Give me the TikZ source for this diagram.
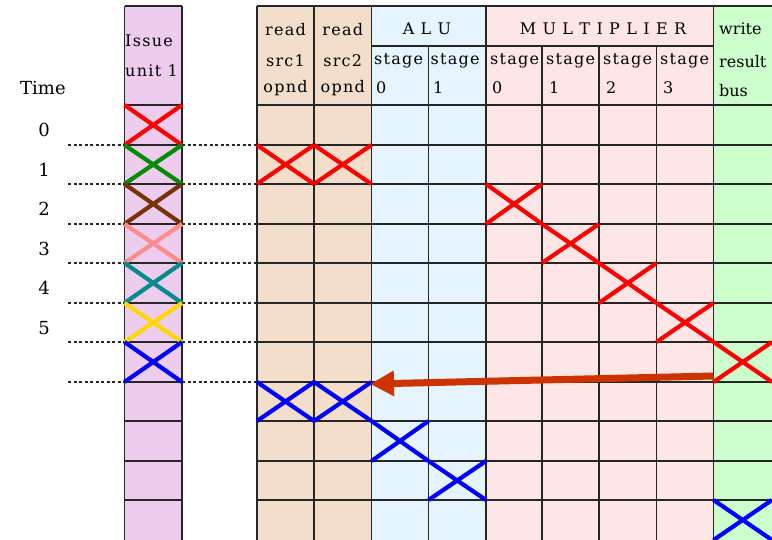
\documentclass[tikz,border=0pt]{standalone}
\usepackage{fontspec}
\setmainfont{DejaVu Serif}
\newfontfamily\hdrfont{DejaVu Serif}[LetterSpace=8]
\usetikzlibrary{arrows.meta}
\definecolor{issuefill}{RGB}{238,204,238}
\definecolor{readfill}{RGB}{242,222,202}
\definecolor{alufill}{RGB}{230,244,255}
\definecolor{mulfill}{RGB}{255,230,230}
\definecolor{wrfill}{RGB}{204,255,204}
\definecolor{xred}{RGB}{255,0,0}
\definecolor{xgreen}{RGB}{0,140,0}
\definecolor{xbrown}{RGB}{120,50,10}
\definecolor{xpink}{RGB}{255,140,140}
\definecolor{xteal}{RGB}{0,140,140}
\definecolor{xgold}{RGB}{255,215,0}
\definecolor{xblue}{RGB}{0,0,255}
\definecolor{arrowcol}{RGB}{204,51,0}
\def\colsx{{257,314,371.5,428.5,486,542,599,656.5,713.5,772}}
\def\rowsy{{105,145,184,224,263,303,342,382,421,461,500,540}}
\newcommand\xcell[3]{%
  \pgfmathsetmacro\xl{\colsx[#1]}%
  \pgfmathsetmacro\xr{\colsx[#1+1]}%
  \pgfmathsetmacro\yt{\rowsy[#2]}%
  \pgfmathsetmacro\yb{\rowsy[#2+1]}%
  \draw[xmark,#3] (\xl,\yt) -- (\xr,\yb) (\xl,\yb) -- (\xr,\yt);}
\newcommand\icell[2]{%
  \pgfmathsetmacro\yt{\rowsy[#1]}%
  \pgfmathsetmacro\yb{\rowsy[#1+1]}%
  \draw[xmark,#2] (124.5,\yt) -- (182,\yb) (124.5,\yb) -- (182,\yt);}
\begin{document}
\begin{tikzpicture}[x=1pt,y=-1pt,
  gridline/.style={line width=1.8pt, black!85},
  xmark/.style={line width=4.2pt},
  dots/.style={line width=2pt, black!85, dash pattern=on 3pt off 2.5pt},
  hdr/.style={font=\hdrfont\fontsize{16}{18}\selectfont, inner sep=0pt},
  wrt/.style={font=\fontsize{16}{18}\selectfont, inner sep=0pt},
  lbl/.style={font=\fontsize{18}{20}\selectfont, inner sep=0pt}]
\useasboundingbox (0,0) rectangle (772,540);
\clip (0,0) rectangle (772,540);
% fills
\fill[issuefill] (124.5,6) rectangle (182,545);
\fill[readfill] (257,6) rectangle (371.5,545);
\fill[alufill] (371.5,6) rectangle (486,545);
\fill[mulfill] (486,6) rectangle (713.5,545);
\fill[wrfill] (713.5,6) rectangle (780,545);
% grid
\draw[gridline] (124.5,6) -- (182,6) (257,6) -- (780,6);
\draw[gridline] (371.5,46) -- (713.5,46);
\foreach \r in {0,...,10}{
  \pgfmathsetmacro\yy{\rowsy[\r]}
  \draw[gridline] (124.5,\yy) -- (182,\yy) (257,\yy) -- (780,\yy);
}
\foreach \x in {124.5,182,257,314,371.5,486,713.5}
  \draw[gridline] (\x,6) -- (\x,545);
\foreach \x in {428.5,542,599,656.5}
  \draw[gridline] (\x,46) -- (\x,545);
% dotted time lines
\foreach \r in {1,...,7}{
  \pgfmathsetmacro\yy{\rowsy[\r]}
  \draw[dots] (68,\yy) -- (124.5,\yy) (182,\yy) -- (257,\yy);
}
% issue unit crosses
\icell{0}{xred}
\icell{1}{xgreen}
\icell{2}{xbrown}
\icell{3}{xpink}
\icell{4}{xteal}
\icell{5}{xgold}
\icell{6}{xblue}
% pipeline crosses
\xcell{0}{1}{xred}
\xcell{1}{1}{xred}
\xcell{4}{2}{xred}
\xcell{5}{3}{xred}
\xcell{6}{4}{xred}
\xcell{7}{5}{xred}
\xcell{8}{6}{xred}
\xcell{0}{7}{xblue}
\xcell{1}{7}{xblue}
\xcell{2}{8}{xblue}
\xcell{3}{9}{xblue}
\xcell{8}{10}{xblue}
% labels
\node[lbl, anchor=base west] (time) at (20,95) {Time};
\foreach \k in {0,...,5}{
  \pgfmathsetmacro\yy{\rowsy[\k]+32}
  \node[lbl, anchor=base] (t\k) at (44,\yy) {\k};
}
\node[hdr, anchor=base west] (iss1) at (125,47) {Issue};
\node[hdr, anchor=base west] (iss2) at (125,77) {unit 1};
\node[hdr, anchor=base] (ra1) at (285.5,36) {read};
\node[hdr, anchor=base] (ra2) at (285.5,67) {src1};
\node[hdr, anchor=base] (ra3) at (285.5,93) {opnd};
\node[hdr, anchor=base] (rb1) at (342.75,36) {read};
\node[hdr, anchor=base] (rb2) at (342.75,67) {src2};
\node[hdr, anchor=base] (rb3) at (342.75,93) {opnd};
\node[hdr, anchor=base] (alu) at (427,35) {A L U};
\node[hdr, anchor=base west] (as0) at (374,65) {stage};
\node[hdr, anchor=base west] (an0) at (376,94) {0};
\node[hdr, anchor=base west] (as1) at (430.5,65) {stage};
\node[hdr, anchor=base west] (an1) at (433,94) {1};
\node[hdr, anchor=base] (mul) at (603,35) {M U L T I P L I E R};
\node[hdr, anchor=base west] (ms0) at (490,65) {stage};
\node[hdr, anchor=base west] (mn0) at (492,94) {0};
\node[hdr, anchor=base west] (ms1) at (546,65) {stage};
\node[hdr, anchor=base west] (mn1) at (549,94) {1};
\node[hdr, anchor=base west] (ms2) at (603,65) {stage};
\node[hdr, anchor=base west] (mn2) at (606,94) {2};
\node[hdr, anchor=base west] (ms3) at (660,65) {stage};
\node[hdr, anchor=base west] (mn3) at (663,94) {3};
\node[wrt, anchor=base west] (wr1) at (719,35) {write};
\node[wrt, anchor=base west] (wr2) at (719,68) {result};
\node[wrt, anchor=base west] (wr3) at (719,97) {bus};
% forwarding arrow
\coordinate (arrS) at (713.5,376);
\coordinate (arrE) at (370,384);
\draw[arrowcol, line width=7pt, -{Triangle[length=24pt,width=24pt]}] (arrS) -- (arrE);
\end{tikzpicture}
\end{document}
